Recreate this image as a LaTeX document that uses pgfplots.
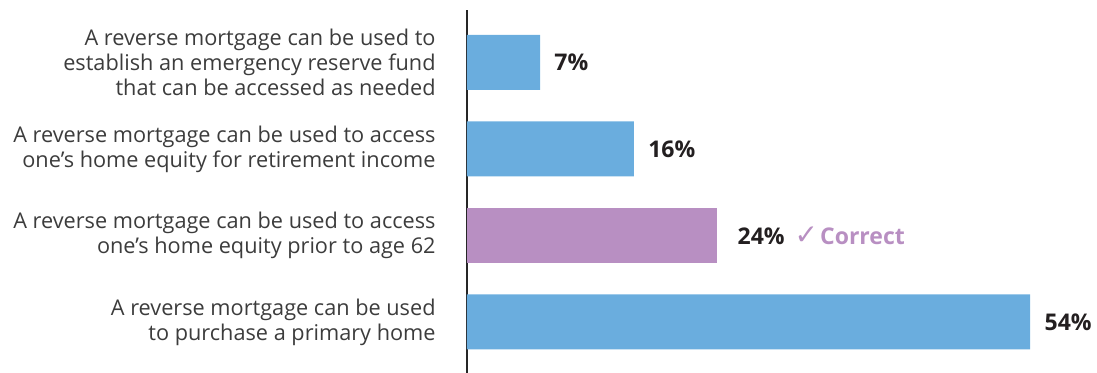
\documentclass[border=0pt]{standalone}
\usepackage{pgfplots}
\pgfplotsset{compat=1.18}
\usepackage{fontspec}
\setmainfont{Open Sans}
\newfontfamily\symfont{DejaVu Sans}
\usetikzlibrary{calc}
\definecolor{barblue}{HTML}{6AADDE}
\definecolor{barpurple}{HTML}{B88FC2}
\definecolor{labelgray}{HTML}{3C3C3C}
\definecolor{valblack}{HTML}{231F20}
\begin{document}
\begin{tikzpicture}
\begin{axis}[
  name=ax,
  scale only axis,
  width=315pt, height=181.5pt,
  xbar, bar width=0.636, bar shift=0pt,
  xmin=0, xmax=60.4,
  ymin=-0.59, ymax=3.607,
  axis x line=none,
  axis y line=left,
  y axis line style={-, line width=1pt, color=black!85},
  ytick={0,1,2,3},
  yticklabels={
    {A reverse mortgage can be used\\to purchase a primary home},
    {A reverse mortgage can be used to access\\one’s home equity prior to age 62},
    {A reverse mortgage can be used to access\\one’s home equity for retirement income},
    {A reverse mortgage can be used to\\establish an emergency reserve fund\\that can be accessed as needed}},
  major tick length=0pt,
  ytick style={draw=none},
  yticklabel style={align=right, font=\fontsize{10.85}{12.5}\selectfont, text=labelgray, inner sep=0pt, xshift=-15.5pt},
  nodes near coords, point meta=explicit symbolic,
  nodes near coords style={anchor=west, inner sep=0pt, xshift=7pt, font=\fontsize{11.5}{13}\selectfont\bfseries, text=valblack},
  clip=false,
]
\addplot[fill=barblue, draw=none] coordinates {(54,0) [54\%] (16,2) [16\%] (7,3) [7\%]};
\addplot[fill=barpurple, draw=none] coordinates {(24,1) [\hspace{3pt}24\%\hspace{5pt}\textcolor{barpurple}{{\symfont\bfseries\fontsize{14}{14}\selectfont ✓}\hspace{1pt}Correct}]};
\end{axis}
\pgfresetboundingbox
\path[use as bounding box] ($(ax.south west)+(-233.5pt,0pt)$) rectangle ($(ax.north east)+(0pt,5pt)$);
\end{tikzpicture}
\end{document}
